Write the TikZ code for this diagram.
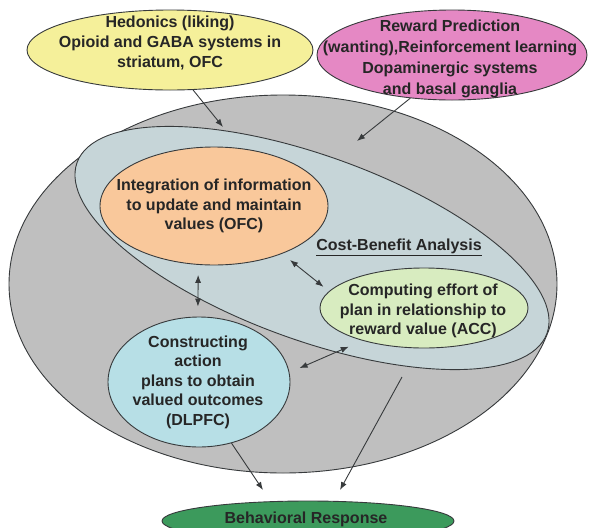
\documentclass[tikz,border=0pt]{standalone}
\usepackage{fontspec}
\setmainfont{Liberation Sans}
\usetikzlibrary{arrows.meta,shapes.geometric}
\definecolor{ink}{RGB}{55,58,60}
\definecolor{shell}{RGB}{191,191,191}
\definecolor{cbfill}{RGB}{198,213,216}
\definecolor{ofcfill}{RGB}{249,200,155}
\definecolor{accfill}{RGB}{216,236,192}
\definecolor{dlpfill}{RGB}{183,223,230}
\definecolor{hedfill}{RGB}{245,240,154}
\definecolor{rpfill}{RGB}{229,136,196}
\definecolor{brfill}{RGB}{60,154,92}

\begin{document}
\begin{tikzpicture}[x=1pt,y=-1pt,
  blob/.style={ellipse,draw=ink,line width=0.9pt,inner sep=0pt},
  txt/.style={align=center,font=\fontsize{16}{19.5}\selectfont\bfseries,text=black!85},
  arrow/.style={-{Latex[length=8pt,width=6pt]},line width=0.9pt,draw=ink},
  twoway/.style={{Latex[length=8pt,width=6pt]}-{Latex[length=8pt,width=6pt]},line width=0.9pt,draw=ink}
]
\useasboundingbox (0,0) rectangle (590,528);
\clip (0,0) rectangle (590,528);

% outer region and cost-benefit band
\node[blob,fill=shell,minimum width=548,minimum height=378] (brain) at (283,284) {};
\node[blob,fill=cbfill,minimum width=500,minimum height=184,rotate=-20] (cb) at (312,248) {};
\node[txt] (cbtxt) at (399,247) {\underline{Cost-Benefit Analysis}};

% inner areas
\node[blob,fill=ofcfill,minimum width=228,minimum height=118] (ofc) at (214,206) {};
\node[txt] (ofctxt) at (ofc) {Integration of information\\to update and maintain\\values (OFC)};
\node[blob,fill=accfill,minimum width=208,minimum height=80] (acc) at (424,308) {};
\node[txt] (acctxt) at (423,311) {Computing effort of\\plan in relationship to\\reward value (ACC)};
\node[blob,fill=dlpfill,minimum width=182,minimum height=130] (dlp) at (199,382) {};
\node[txt] (dlptxt) at (198,382) {Constructing\\action\\plans to obtain\\valued outcomes\\(DLPFC)};

% inputs and output
\node[blob,fill=hedfill,minimum width=286,minimum height=80] (hed) at (170,50) {};
\node[txt,font=\fontsize{16}{20}\selectfont\bfseries] (hedtxt) at (170,43) {Hedonics (liking)\\Opioid and GABA systems in\\striatum, OFC};
\node[blob,fill=rpfill,minimum width=270,minimum height=90] (rp) at (452,55) {};
\node[txt,font=\fontsize{16}{21}\selectfont\bfseries] (rptxt) at (450,59) {Reward Prediction\\(wanting),Reinforcement learning\\Dopaminergic systems\\and basal ganglia};
\node[blob,fill=brfill,minimum width=292,minimum height=40] (br) at (308,521) {};
\node[txt] (brtxt) at (306,519) {Behavioral Response};

% free ends
\coordinate (hedin) at (223,127);
\coordinate (rpin) at (357,141);
\coordinate (cbout) at (402,377);
\coordinate (brin1) at (263,490);
\coordinate (brin2) at (340,490);

\draw[arrow] (hed.-60) -- (hedin);
\draw[arrow] (rp.-134) -- (rpin);
\draw[twoway,shorten <=10pt,shorten >=10pt] (ofc.-105) -- (dlp.91);
\draw[twoway,shorten <=10pt,shorten >=7pt] (ofc.-35) -- (acc.170);
\draw[twoway,shorten <=11pt,shorten >=15pt] (dlp.6) -- (acc.-152);
\draw[arrow] (dlp.-62) -- (brin1);
\draw[arrow] (cbout) -- (brin2);
\end{tikzpicture}
\end{document}
